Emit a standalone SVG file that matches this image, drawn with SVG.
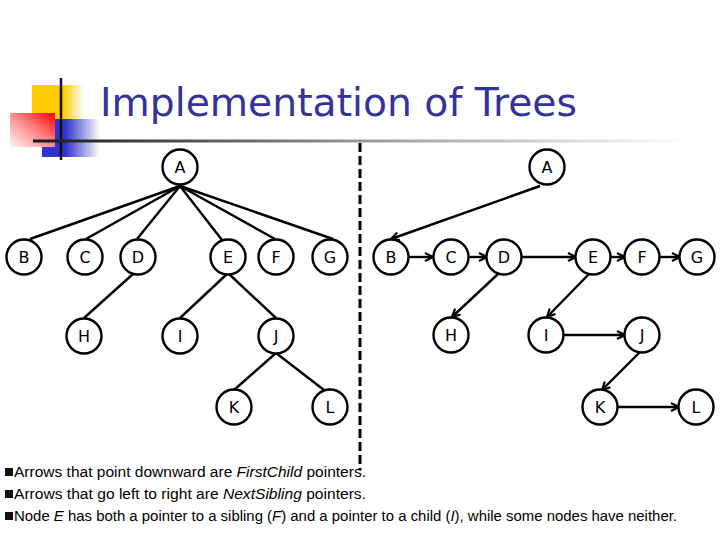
<svg xmlns="http://www.w3.org/2000/svg" width="720" height="540" viewBox="0 0 720 540">
<style>
.node circle{fill:#fff;stroke:#000;stroke-width:2.4}
.node text{font-family:"DejaVu Sans",Verdana,sans-serif;font-size:16px;fill:#000;text-anchor:middle;dominant-baseline:central}
.edge{stroke:#000;stroke-width:2.4;fill:none}
.arr{stroke:#000;stroke-width:2.4;fill:none;marker-end:url(#ah)}
.title{font-family:"DejaVu Sans",Verdana,sans-serif;font-size:39px;fill:#333399}
.note{font-family:"Liberation Sans",Arial,sans-serif;font-size:14px;fill:#000}
.it{font-style:italic}
</style>
<defs>
<marker id="ah" markerUnits="userSpaceOnUse" markerWidth="10" markerHeight="10" viewBox="0 0 10 10" refX="9" refY="5" orient="auto">
<path d="M1,1 L9,5 L1,9" fill="none" stroke="#000" stroke-width="2.2"/>
</marker>
<linearGradient id="gy" x1="32" y1="0" x2="84" y2="0" gradientUnits="userSpaceOnUse">
<stop offset="0" stop-color="#ffcc00"/><stop offset="0.6" stop-color="#ffcc00"/><stop offset="1" stop-color="#ffcc00" stop-opacity="0"/>
</linearGradient>
<linearGradient id="gb" x1="42" y1="0" x2="100" y2="0" gradientUnits="userSpaceOnUse">
<stop offset="0" stop-color="#3333cc"/><stop offset="0.4" stop-color="#3333cc"/><stop offset="1" stop-color="#3333cc" stop-opacity="0"/>
</linearGradient>
<linearGradient id="gr" x1="1" y1="0" x2="0" y2="1">
<stop offset="0" stop-color="#ff0000"/><stop offset="0.45" stop-color="#ff8080"/><stop offset="1" stop-color="#fff4f4"/>
</linearGradient>
<linearGradient id="gl" x1="33" y1="0" x2="690" y2="0" gradientUnits="userSpaceOnUse">
<stop offset="0" stop-color="#1a1a1a"/><stop offset="0.12" stop-color="#333"/><stop offset="0.5" stop-color="#999"/><stop offset="1" stop-color="#fff"/>
</linearGradient>
</defs>
<rect width="720" height="540" fill="#fff"/>
<g id="logo">
<rect x="32" y="85" width="52" height="34" fill="url(#gy)"/>
<rect x="42" y="119" width="58" height="38" fill="url(#gb)"/>
<rect x="10" y="113" width="45" height="34" fill="url(#gr)"/>
<line x1="61" y1="78" x2="61" y2="160" stroke="#111" stroke-width="2.5"/>
<line x1="33" y1="141" x2="690" y2="141" stroke="url(#gl)" stroke-width="3"/>
</g>
<text class="title" x="100" y="116" textLength="477" lengthAdjust="spacingAndGlyphs">Implementation of Trees</text>
<line x1="360" y1="143" x2="360" y2="470" stroke="#000" stroke-width="3" stroke-dasharray="9 4"/>
<g id="connectors">
<line class="edge" x1="180" y1="186" x2="30" y2="239"/>
<line class="edge" x1="180" y1="186" x2="86" y2="239"/>
<line class="edge" x1="180" y1="186" x2="137" y2="239"/>
<line class="edge" x1="180" y1="186" x2="222" y2="240"/>
<line class="edge" x1="180" y1="186" x2="275" y2="239"/>
<line class="edge" x1="180" y1="186" x2="333" y2="239"/>
<line class="edge" x1="133" y1="274" x2="84" y2="318"/>
<line class="edge" x1="227" y1="274" x2="180" y2="318"/>
<line class="edge" x1="229" y1="274" x2="276" y2="318"/>
<line class="edge" x1="276" y1="353" x2="234" y2="390"/>
<line class="edge" x1="276" y1="353" x2="324" y2="390"/>
<line class="arr" x1="540" y1="186" x2="391" y2="239"/>
<line class="arr" x1="409" y1="257" x2="433" y2="257"/>
<line class="arr" x1="469" y1="257" x2="487" y2="257"/>
<line class="arr" x1="522" y1="257" x2="576" y2="257"/>
<line class="arr" x1="611" y1="257" x2="625" y2="257"/>
<line class="arr" x1="660" y1="257" x2="680" y2="257"/>
<line class="arr" x1="498" y1="274" x2="452" y2="317"/>
<line class="arr" x1="589" y1="274" x2="547" y2="317"/>
<line class="arr" x1="564" y1="335" x2="625" y2="335"/>
<line class="arr" x1="639" y1="353" x2="602" y2="390"/>
<line class="arr" x1="618" y1="407" x2="679" y2="407"/>
</g>
<g id="L-A" class="node"><circle cx="180" cy="167" r="17.5"/><text x="180" y="167">A</text></g>
<g id="L-B" class="node"><circle cx="24" cy="257" r="17.5"/><text x="24" y="257">B</text></g>
<g id="L-C" class="node"><circle cx="85" cy="257" r="17.5"/><text x="85" y="257">C</text></g>
<g id="L-D" class="node"><circle cx="138" cy="257" r="17.5"/><text x="138" y="257">D</text></g>
<g id="L-E" class="node"><circle cx="228" cy="257" r="17.5"/><text x="228" y="257">E</text></g>
<g id="L-F" class="node"><circle cx="276" cy="257" r="17.5"/><text x="276" y="257">F</text></g>
<g id="L-G" class="node"><circle cx="330" cy="257" r="17.5"/><text x="330" y="257">G</text></g>
<g id="L-H" class="node"><circle cx="84" cy="336" r="17.5"/><text x="84" y="336">H</text></g>
<g id="L-I" class="node"><circle cx="180" cy="336" r="17.5"/><text x="180" y="336">I</text></g>
<g id="L-J" class="node"><circle cx="276" cy="336" r="17.5"/><text x="276" y="336">J</text></g>
<g id="L-K" class="node"><circle cx="234" cy="407" r="17.5"/><text x="234" y="407">K</text></g>
<g id="L-L" class="node"><circle cx="330" cy="407" r="17.5"/><text x="330" y="407">L</text></g>
<g id="R-A" class="node"><circle cx="547" cy="167" r="17.5"/><text x="547" y="167">A</text></g>
<g id="R-B" class="node"><circle cx="391" cy="257" r="17.5"/><text x="391" y="257">B</text></g>
<g id="R-C" class="node"><circle cx="451" cy="257" r="17.5"/><text x="451" y="257">C</text></g>
<g id="R-D" class="node"><circle cx="504" cy="257" r="17.5"/><text x="504" y="257">D</text></g>
<g id="R-E" class="node"><circle cx="593" cy="257" r="17.5"/><text x="593" y="257">E</text></g>
<g id="R-F" class="node"><circle cx="642" cy="257" r="17.5"/><text x="642" y="257">F</text></g>
<g id="R-G" class="node"><circle cx="697" cy="257" r="17.5"/><text x="697" y="257">G</text></g>
<g id="R-H" class="node"><circle cx="451" cy="335" r="17.5"/><text x="451" y="335">H</text></g>
<g id="R-I" class="node"><circle cx="546" cy="335" r="17.5"/><text x="546" y="335">I</text></g>
<g id="R-J" class="node"><circle cx="642" cy="335" r="17.5"/><text x="642" y="335">J</text></g>
<g id="R-K" class="node"><circle cx="600" cy="407" r="17.5"/><text x="600" y="407">K</text></g>
<g id="R-L" class="node"><circle cx="696" cy="407" r="17.5"/><text x="696" y="407">L</text></g>
<g id="notes">
<rect x="5" y="468" width="8" height="8" fill="#111"/>
<rect x="5" y="490" width="8" height="8" fill="#111"/>
<rect x="5" y="512" width="8" height="8" fill="#111"/>
<text class="note" x="14" y="477" textLength="352" lengthAdjust="spacingAndGlyphs">Arrows that point downward are <tspan class="it">FirstChild</tspan> pointers.</text>
<text class="note" x="14" y="499" textLength="352" lengthAdjust="spacingAndGlyphs">Arrows that go left to right are <tspan class="it">NextSibling</tspan> pointers.</text>
<text class="note" x="14" y="521" textLength="663" lengthAdjust="spacingAndGlyphs">Node <tspan class="it">E</tspan> has both a pointer to a sibling (<tspan class="it">F</tspan>) and a pointer to a child (<tspan class="it">I</tspan>), while some nodes have neither.</text>
</g>
</svg>
